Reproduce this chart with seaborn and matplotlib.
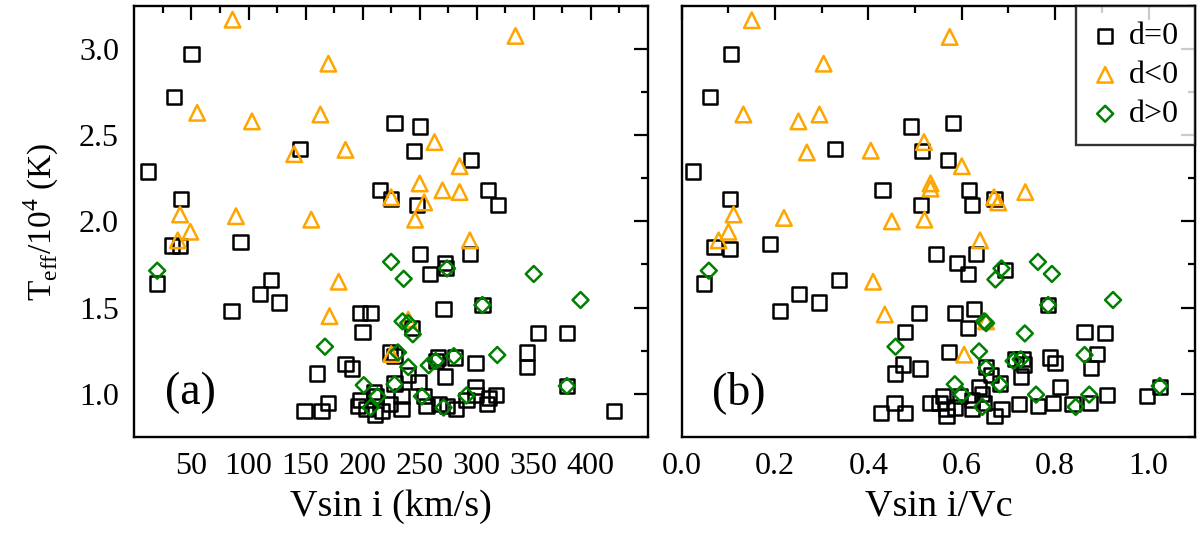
import numpy as np
import pandas as pd
import matplotlib
matplotlib.use('Agg')
import matplotlib.pyplot as plt
import seaborn as sns

# ---- du lieu doc tu hinh: panel (a) Vsin i (km/s), panel (b) Vsin i/Vc, truc y Teff/1e4 ----
a_sq_x = [50, 35, 12, 145, 228, 250, 245, 295, 215, 225, 248, 310, 319, 41,
          33, 40, 93, 20, 250, 294, 272, 273, 259, 120, 110, 127, 85, 198, 207, 271,
          305, 243, 200, 354, 379, 224, 228, 185, 191, 160, 266, 264, 281, 299, 344,
          344, 272, 249, 240, 228, 379, 299, 317, 311, 299, 291, 282, 267, 256, 254,
          234, 234, 224, 212, 210, 198, 196, 203, 211, 217, 170, 164, 149, 420, 274, 309]
a_sq_y = [2.97, 2.72, 2.29, 2.42, 2.57, 2.55, 2.41, 2.355, 2.18, 2.13, 2.095, 2.18, 2.095, 2.13,
          1.86, 1.855, 1.88, 1.64, 1.81, 1.81, 1.76, 1.73, 1.695, 1.66, 1.58, 1.53, 1.48, 1.47, 1.47, 1.49,
          1.515, 1.38, 1.36, 1.354, 1.354, 1.24, 1.22, 1.174, 1.146, 1.117, 1.21, 1.19, 1.21, 1.18, 1.24,
          1.155, 1.10, 1.07, 1.11, 1.06, 1.045, 1.04, 0.995, 0.975, 0.995, 0.965, 0.91, 0.94, 0.93, 0.985,
          0.985, 0.91, 0.94, 0.985, 1.01, 0.965, 0.93, 0.91, 0.88, 0.90, 0.947, 0.90, 0.90, 0.90, 0.93, 0.94]

a_tri_x = [86, 334, 170, 55, 103, 163, 140, 185, 263, 285, 250, 270, 285, 225, 254, 246,
           40, 89, 155, 49, 38, 294, 179, 171, 240, 225]
a_tri_y = [3.17, 3.076, 2.915, 2.63, 2.58, 2.62, 2.39, 2.415, 2.46, 2.32, 2.22, 2.18, 2.17, 2.14, 2.11, 2.01,
           2.04, 2.03, 2.01, 1.94, 1.89, 1.89, 1.65, 1.45, 1.43, 1.23]

a_dia_x = [20, 225, 236, 274, 350, 391, 305, 235, 240, 244, 167, 231, 280, 318, 240, 258,
           264, 201, 228, 379, 252, 291, 207, 271, 213]
a_dia_y = [1.714, 1.765, 1.667, 1.727, 1.695, 1.544, 1.515, 1.42, 1.41, 1.345, 1.273, 1.24, 1.218, 1.225,
           1.155, 1.165, 1.19, 1.05, 1.055, 1.045, 0.985, 0.99, 0.92, 0.92, 0.985]

b_sq_x = [0.106, 0.061, 0.024, 0.328, 0.491, 0.581, 0.515, 0.570, 0.43, 0.513, 0.615, 0.622, 0.67, 0.104,
          0.07, 0.104, 0.189, 0.047, 0.544, 0.63, 0.589, 0.613, 0.693, 0.337, 0.252, 0.294, 0.211, 0.509,
          0.585, 0.626, 0.785, 0.613, 0.479, 0.863, 0.907, 0.573, 0.889, 0.789, 0.80, 0.715, 0.73, 0.733,
          0.726, 0.474, 0.511, 0.457, 0.876, 0.652, 0.663, 0.681, 1.024, 0.911, 0.996, 0.811, 0.874, 0.795,
          0.763, 0.722, 0.685, 0.67, 0.644, 0.637, 0.622, 0.622, 0.596, 0.585, 0.567, 0.559, 0.552, 0.533,
          0.567, 0.456, 0.479, 0.427, 0.648, 0.837]
b_sq_y = [2.97, 2.72, 2.29, 2.42, 2.55, 2.57, 2.41, 2.355, 2.18, 2.095, 2.18, 2.095, 2.13, 2.13,
          1.85, 1.84, 1.87, 1.64, 1.81, 1.81, 1.76, 1.695, 1.72, 1.66, 1.58, 1.53, 1.48, 1.47,
          1.47, 1.49, 1.515, 1.38, 1.36, 1.36, 1.354, 1.244, 1.23, 1.21, 1.18, 1.20, 1.20, 1.17,
          1.10, 1.17, 1.146, 1.117, 1.15, 1.155, 1.11, 1.06, 1.04, 0.995, 0.985, 1.04, 0.947, 0.947,
          0.93, 0.94, 0.91, 0.87, 1.0, 1.04, 0.966, 0.91, 0.985, 0.92, 0.91, 0.985, 0.947, 0.947,
          0.87, 0.947, 0.89, 0.89, 0.947, 0.94]

b_tri_x = [0.150, 0.574, 0.304, 0.132, 0.25, 0.295, 0.268, 0.405, 0.519, 0.60, 0.533, 0.533, 0.669,
           0.678, 0.736, 0.111, 0.219, 0.45, 0.52, 0.10, 0.079, 0.639, 0.41, 0.435, 0.652, 0.605]
b_tri_y = [3.167, 3.07, 2.915, 2.62, 2.58, 2.62, 2.40, 2.41, 2.46, 2.32, 2.22, 2.19, 2.14,
           2.11, 2.17, 2.04, 2.02, 2.00, 2.01, 1.94, 1.89, 1.89, 1.65, 1.46, 1.42, 1.227]

b_dia_x = [0.058, 0.763, 0.793, 0.685, 0.672, 0.924, 0.785, 0.648, 0.652, 0.735, 0.458, 0.637,
           0.863, 0.726, 0.711, 0.652, 0.681, 0.585, 1.024, 0.60, 0.759, 0.873, 0.644, 0.844]
b_dia_y = [1.714, 1.765, 1.695, 1.727, 1.663, 1.544, 1.515, 1.42, 1.41, 1.35, 1.273, 1.246,
           1.225, 1.20, 1.19, 1.15, 1.055, 1.055, 1.045, 0.995, 0.995, 0.995, 0.924, 0.924]

labels = ['d=0', 'd<0', 'd>0']
colors = ['black', 'orange', 'green']
markers = ['s', '^', 'D']
sizes = [105, 125, 66]

sns.set_style('white')
plt.rcParams['font.family'] = ['Liberation Serif', 'DejaVu Serif']
plt.rcParams['mathtext.fontset'] = 'custom'
plt.rcParams['mathtext.rm'] = 'Liberation Serif'
for k in ['text.color', 'axes.labelcolor', 'xtick.color', 'ytick.color', 'axes.edgecolor']:
    plt.rcParams[k] = 'black'

fig, axes = plt.subplots(1, 2, figsize=(12, 5.38), dpi=100, sharey=True)
plt.subplots_adjust(left=0.112, right=0.996, bottom=0.188, top=0.989, wspace=0.066)

panels = [
    [(a_sq_x, a_sq_y), (a_tri_x, a_tri_y), (a_dia_x, a_dia_y)],
    [(b_sq_x, b_sq_y), (b_tri_x, b_tri_y), (b_dia_x, b_dia_y)],
]

for ax, groups in zip(axes, panels):
    for (gx, gy), lab, col, mk, sz in zip(groups, labels, colors, markers, sizes):
        df = pd.DataFrame({'x': gx, 'y': gy})
        sns.scatterplot(data=df, x='x', y='y', marker=mk, s=sz, facecolor='none',
                        edgecolor=col, linewidth=1.8, ax=ax, label=lab, legend=False)
    ax.set_ylim(0.8, 3.25)
    for sp in ax.spines.values():
        sp.set_linewidth(1.7)
        sp.set_color('black')
    ax.tick_params(which='both', direction='in', top=True, right=True,
                   labelsize=23, width=1.6, color='black')
    ax.tick_params(axis='y', pad=11)
    ax.tick_params(axis='x', pad=11)
    ax.tick_params(which='major', length=10)
    ax.tick_params(which='minor', length=5)
    ax.set_yticks([1.0, 1.5, 2.0, 2.5, 3.0])
    ax.set_yticks(np.arange(0.75, 3.3, 0.25), minor=True)

# panel (a)
ax = axes[0]
ax.set_xlim(0, 450)
ax.set_xticks(np.arange(50, 401, 50))
ax.set_xticks(np.arange(25, 450, 25), minor=True)
ax.set_xlabel('Vsin i (km/s)', fontsize=27.5, labelpad=6)
ax.set_ylabel(r'T$_\mathregular{eff}$/10$^\mathregular{4}$ (K)', fontsize=24, labelpad=13)
ax.set_yticklabels(['1.0', '1.5', '2.0', '2.5', '3.0'])
ax.text(0.109, 0.102, '(a)', transform=ax.transAxes, fontsize=33, ha='center', va='center')

# panel (b)
ax = axes[1]
ax.set_xlim(0, 1.1)
ax.set_xticks(np.arange(0, 1.01, 0.2))
ax.set_xticklabels(['0.0', '0.2', '0.4', '0.6', '0.8', '1.0'])
ax.set_xticks(np.arange(0.1, 1.1, 0.1), minor=True)
ax.set_xlabel('Vsin i/Vc', fontsize=27.5, labelpad=6)
ax.set_ylabel('')
ax.tick_params(labelleft=False)
ax.text(0.111, 0.102, '(b)', transform=ax.transAxes, fontsize=33, ha='center', va='center')

leg = ax.legend(loc='upper right', fontsize=23, frameon=True, fancybox=False,
                borderaxespad=0, handlelength=0.8, handletextpad=0.35,
                borderpad=0.5, labelspacing=0.3)
leg.get_frame().set_edgecolor('black')
leg.get_frame().set_linewidth(1.7)

fig.savefig('out.png', dpi=100)
